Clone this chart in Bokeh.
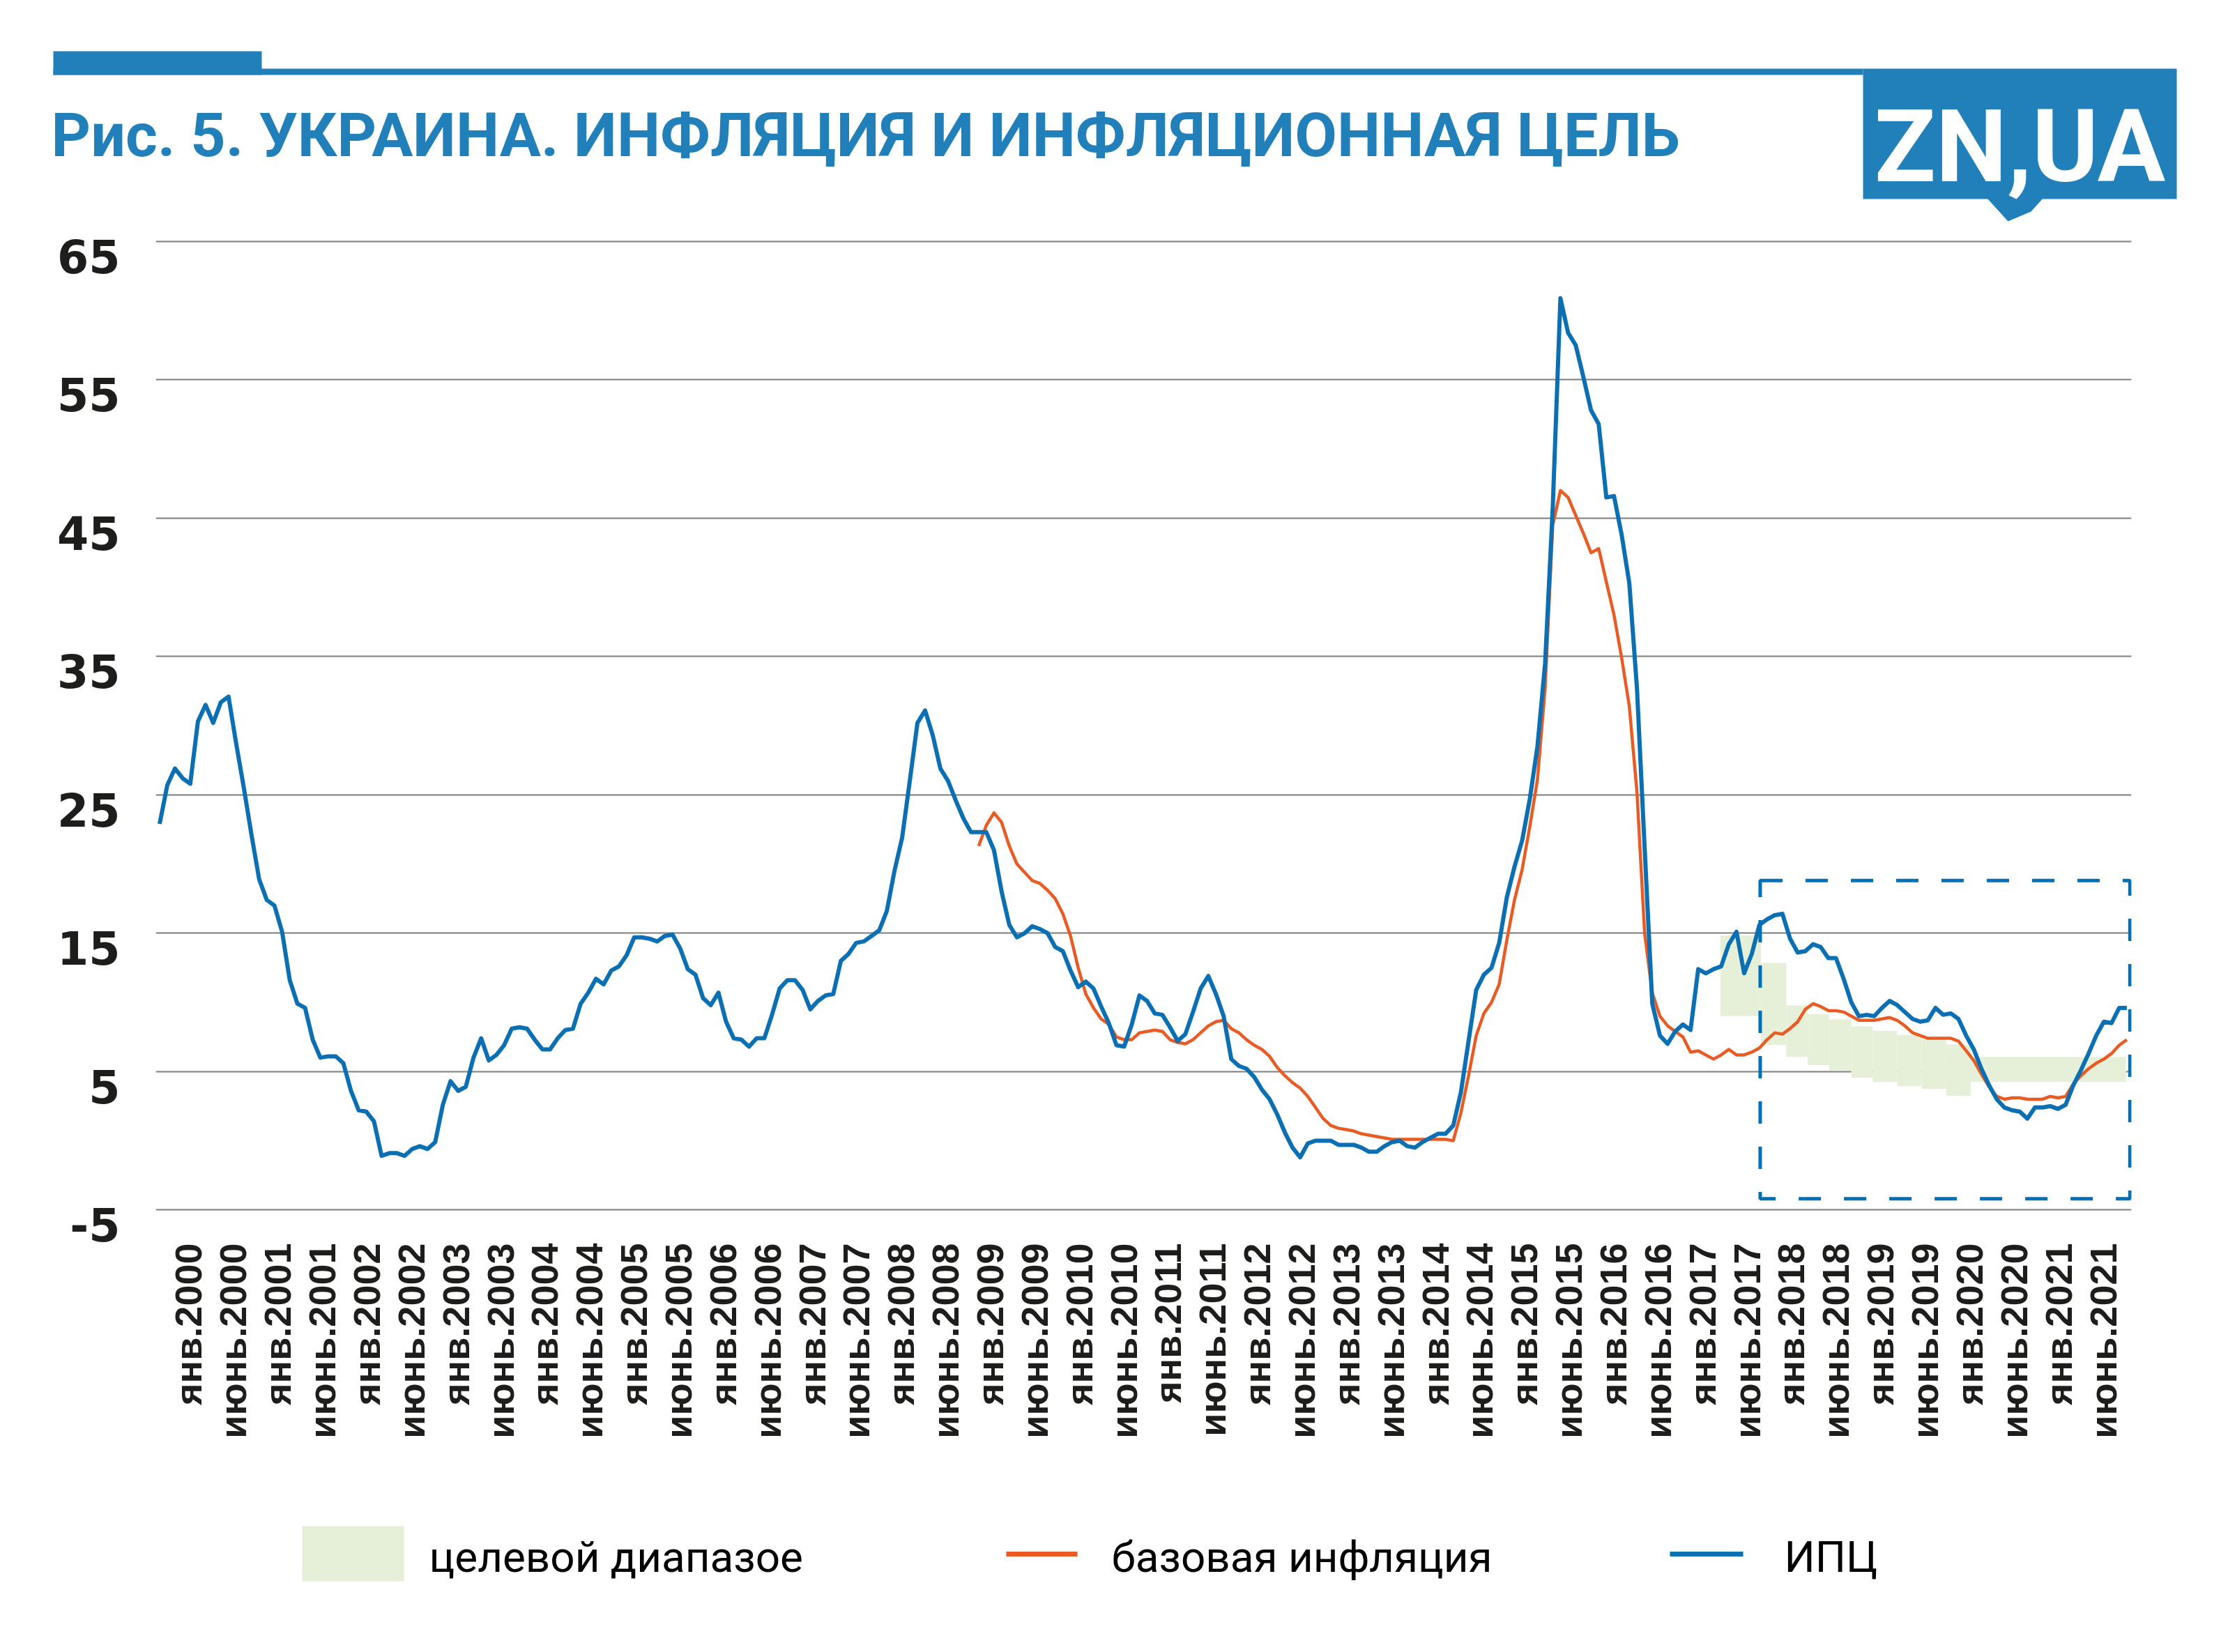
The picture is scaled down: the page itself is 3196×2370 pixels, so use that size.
import math
from bokeh.plotting import figure
from bokeh.models import Range1d, FixedTicker
from bokeh.layouts import column
from bokeh.core.properties import value
from bokeh.embed import file_html
from bokeh.resources import INLINE

# ---------------- data (monthly, Jan 2000 .. Jun 2021) ----------------
cpi = [
    22.9, 25.7, 26.9, 26.2, 25.8, 30.3, 31.5, 30.2, 31.7, 32.1, 28.7, 25.5,   # 2000
    22.1, 18.9, 17.4, 17.0, 15.1, 11.6, 9.9, 9.6, 7.3, 6.0, 6.1, 6.1,         # 2001
    5.6, 3.6, 2.2, 2.1, 1.4, -1.1, -0.9, -0.9, -1.1, -0.6, -0.4, -0.6,        # 2002
    -0.1, 2.6, 4.3, 3.6, 3.9, 6.0, 7.4, 5.8, 6.2, 6.9, 8.1, 8.2,              # 2003
    8.1, 7.3, 6.6, 6.6, 7.4, 8.0, 8.1, 9.9, 10.7, 11.7, 11.3, 12.3,           # 2004
    12.6, 13.4, 14.7, 14.7, 14.6, 14.4, 14.8, 14.9, 13.9, 12.4, 12.0, 10.3,   # 2005
    9.8, 10.7, 8.6, 7.4, 7.3, 6.8, 7.4, 7.4, 9.1, 11.0, 11.6, 11.6,           # 2006
    10.9, 9.5, 10.1, 10.5, 10.6, 13.0, 13.5, 14.3, 14.4, 14.8, 15.2, 16.6,    # 2007
    19.5, 21.9, 26.0, 30.2, 31.1, 29.3, 26.9, 26.0, 24.6, 23.3, 22.3, 22.3,   # 2008
    22.3, 21.0, 18.0, 15.6, 14.7, 15.0, 15.5, 15.3, 15.0, 14.0, 13.7, 12.3,   # 2009
    11.1, 11.5, 11.0, 9.7, 8.5, 6.9, 6.8, 8.4, 10.5, 10.1, 9.2, 9.1,          # 2010
    8.2, 7.2, 7.7, 9.3, 11.0, 11.9, 10.6, 9.0, 5.9, 5.4, 5.2, 4.6,            # 2011
    3.7, 3.0, 1.9, 0.6, -0.5, -1.2, -0.2, 0.0, 0.0, 0.0, -0.3, -0.3,          # 2012
    -0.3, -0.5, -0.8, -0.8, -0.4, -0.1, 0.0, -0.4, -0.5, -0.1, 0.2, 0.5,      # 2013
    0.5, 1.1, 3.5, 7.2, 10.9, 12.0, 12.5, 14.3, 17.6, 19.8, 21.7, 24.7,       # 2014
    28.5, 34.5, 45.8, 60.9, 58.4, 57.5, 55.2, 52.8, 51.8, 46.5, 46.6, 43.8,   # 2015
    40.3, 32.7, 21.2, 9.9, 7.6, 7.0, 7.9, 8.4, 8.0, 12.4, 12.1, 12.4,         # 2016
    12.6, 14.2, 15.1, 12.1, 13.5, 15.6, 16.0, 16.3, 16.4, 14.6, 13.6, 13.7,   # 2017
    14.2, 14.0, 13.2, 13.2, 11.7, 10.0, 9.0, 9.1, 9.0, 9.6, 10.1, 9.8,        # 2018
    9.3, 8.8, 8.6, 8.7, 9.6, 9.1, 9.2, 8.8, 7.6, 6.6, 5.2, 4.0,               # 2019
    3.0, 2.4, 2.2, 2.1, 1.6, 2.4, 2.4, 2.5, 2.3, 2.6, 4.0, 5.1,               # 2020
    6.3, 7.6, 8.6, 8.5, 9.6, 9.6,                                             # 2021
]

core_start = 107  # Dec 2008
core = [
    21.3,                                                                     # Dec 2008
    22.8, 23.7, 23.0, 21.3, 20.0, 19.4, 18.8, 18.6, 18.1, 17.5, 16.4, 14.8,   # 2009
    12.5, 10.6, 9.6, 8.8, 8.4, 7.5, 7.3, 7.3, 7.8, 7.9, 8.0, 7.9,             # 2010
    7.3, 7.1, 7.0, 7.3, 7.8, 8.3, 8.6, 8.7, 8.1, 7.8, 7.3, 6.9,               # 2011
    6.6, 6.1, 5.3, 4.7, 4.2, 3.8, 3.2, 2.4, 1.6, 1.1, 0.9, 0.8,               # 2012
    0.7, 0.5, 0.4, 0.3, 0.2, 0.1, 0.1, 0.1, 0.1, 0.1, 0.1, 0.1,               # 2013
    0.1, 0.0, 2.0, 4.7, 7.6, 9.2, 10.0, 11.3, 14.5, 17.4, 19.6, 22.7,         # 2014
    26.1, 32.7, 44.5, 47.0, 46.5, 45.2, 43.9, 42.5, 42.8, 40.4, 38.0, 34.9,   # 2015
    31.4, 25.2, 15.0, 10.7, 9.0, 8.3, 7.9, 7.5, 6.4, 6.5, 6.2, 5.9,           # 2016
    6.2, 6.6, 6.2, 6.2, 6.4, 6.7, 7.3, 7.8, 7.7, 8.1, 8.6, 9.5,               # 2017
    9.9, 9.7, 9.4, 9.4, 9.3, 9.0, 8.7, 8.7, 8.7, 8.8, 8.9, 8.7,               # 2018
    8.3, 7.8, 7.6, 7.4, 7.4, 7.4, 7.4, 7.2, 6.5, 5.8, 4.8, 3.9,               # 2019
    3.2, 3.0, 3.1, 3.1, 3.0, 3.0, 3.0, 3.2, 3.1, 3.2, 4.1, 4.7,               # 2020
    5.2, 5.6, 5.9, 6.3, 6.9, 7.3,                                             # 2021
]

# target corridor (month index from Jan 2000)
target_left = [203.9, 209.2, 212.5, 215.3, 218.1, 221.0, 223.8, 227.0, 230.2, 233.4, 236.6]
target_right = [209.2, 212.5, 215.3, 218.1, 221.0, 223.8, 227.0, 230.2, 233.4, 236.6, 256.9]
target_high = [14.84, 12.86, 9.77, 9.16, 8.78, 8.26, 7.94, 7.63, 7.31, 6.95, 6.06]
target_low = [9.0, 6.93, 6.06, 5.47, 5.05, 4.55, 4.24, 3.94, 3.74, 3.23, 4.24]

# highlighted period box
hl_left, hl_right, hl_bottom, hl_top = [209.1], [257.4], [-4.2], [18.8]

y_ticks = [-5, 5, 15, 25, 35, 45, 55, 65]
tick_labels = [f"{m}.{y}" for y in range(2000, 2022) for m in ("янв", "июнь")]

months = list(range(len(cpi)))
core_months = list(range(core_start, core_start + len(core)))

# ---------------- style ----------------
BLUE_HDR = "#2180b9"
BLUE = "#0b6fb3"
ORANGE = "#ea5b24"
GREEN = "#e6f0d9"
GRID = "#7d7d7d"
DARK = "#1d1d1b"
W = 3196


def blank(h):
    f = figure(width=W, height=h, x_range=Range1d(0, W), y_range=Range1d(h, 0),
               output_backend="svg", toolbar_location=None, title=None,
               x_axis_type=None, y_axis_type=None, min_border=0,
               min_border_left=0, min_border_right=0, min_border_top=0, min_border_bottom=0,
               frame_align=False)
    f.grid.visible = False
    f.outline_line_color = None
    f.background_fill_color = "white"
    f.border_fill_color = "white"
    return f


# ---------------- header ----------------
hdr = blank(328)
hdr.quad(left=[76], right=[375], top=[73], bottom=[107], fill_color=BLUE_HDR, line_color=None)
hdr.quad(left=[76], right=[2672], top=[98], bottom=[107], fill_color=BLUE_HDR, line_color=None)
hdr.quad(left=[2672], right=[3122], top=[98], bottom=[285], fill_color=BLUE_HDR, line_color=None)
hdr.patch(x=[2850, 2880, 2913, 2930], y=[284, 317, 303, 284], fill_color=BLUE_HDR, line_color=None)
hdr.text(x=[2897], y=[209], text=["ZN,UA"], text_align="center", text_baseline="alphabetic",
         text_color="white", text_font=value("Roboto"), text_font_style="bold",
         text_font_size="145px")
hdr.text(x=[73], y=[193], text=["Рис. 5. УКРАИНА. ИНФЛЯЦИЯ И ИНФЛЯЦИОННАЯ ЦЕЛЬ"],
         text_align="left", text_baseline="alphabetic", text_color=BLUE_HDR,
         text_font=value("Roboto"), text_font_style="bold", text_font_size="88px")

# ---------------- chart ----------------
p = figure(width=W, height=1812, x_range=Range1d(-0.5, 257.6), y_range=Range1d(-6.2, 65.5),
           output_backend="svg", toolbar_location=None, title=None, frame_align=False,
           min_border_left=223, min_border_right=139, min_border_top=8, min_border_bottom=381)
p.outline_line_color = None
p.background_fill_color = "white"
p.border_fill_color = "white"
p.xgrid.visible = False
p.ygrid.ticker = FixedTicker(ticks=y_ticks)
p.ygrid.grid_line_color = GRID
p.ygrid.grid_line_width = 2

ylab_pos = [round(v - 1.05, 2) for v in y_ticks]
p.yaxis.ticker = FixedTicker(ticks=ylab_pos)
p.yaxis.major_label_overrides = {pos: str(v) for pos, v in zip(ylab_pos, y_ticks)}
p.yaxis.axis_line_color = None
p.yaxis.major_tick_line_color = None
p.yaxis.minor_tick_line_color = None
p.yaxis.major_label_standoff = 45
p.yaxis.major_label_text_font = "DejaVu Sans"
p.yaxis.major_label_text_font_style = "bold"
p.yaxis.major_label_text_font_size = "65px"
p.yaxis.major_label_text_color = DARK

xlab_pos = [round(3.78 + 5.816 * k, 3) for k in range(len(tick_labels))]
p.xaxis.ticker = FixedTicker(ticks=xlab_pos)
p.xaxis.major_label_overrides = {pos: lab for pos, lab in zip(xlab_pos, tick_labels)}
p.xaxis.major_label_orientation = math.pi / 2
p.xaxis.axis_line_color = None
p.xaxis.major_tick_line_color = None
p.xaxis.minor_tick_line_color = None
p.xaxis.major_label_standoff = 18
p.xaxis.major_label_text_font = "Liberation Sans"
p.xaxis.major_label_text_font_style = "bold"
p.xaxis.major_label_text_font_size = "54px"
p.xaxis.major_label_text_color = DARK

p.quad(left=target_left, right=target_right, bottom=target_low, top=target_high,
       fill_color=GREEN, line_color=None)
p.line(core_months, core, line_color=ORANGE, line_width=4.5, line_join="round")
p.line(months, cpi, line_color=BLUE, line_width=6, line_join="round")
p.quad(left=hl_left, right=hl_right, bottom=hl_bottom, top=hl_top, fill_color=None,
       line_color="#0070b8", line_width=5, line_dash="32 33")

# ---------------- legend ----------------
lg = blank(230)
lg.quad(left=[433], right=[579], top=[49], bottom=[128], fill_color=GREEN, line_color=None)
lg.segment(x0=[1443], y0=[89], x1=[1545], y1=[89], line_color=ORANGE, line_width=7)
lg.segment(x0=[2395], y0=[89], x1=[2500], y1=[89], line_color=BLUE, line_width=7)
lg.text(x=[615, 1594, 2559], y=[93, 93, 93],
        text=["целевой диапазое", "базовая инфляция", "ИПЦ"],
        text_align="left", text_baseline="alphabetic", text_color="black",
        text_font=value("Roboto"), text_font_size="62px")

layout = column(hdr, p, lg, spacing=0)
open("out.html", "w").write(file_html(layout, INLINE))
